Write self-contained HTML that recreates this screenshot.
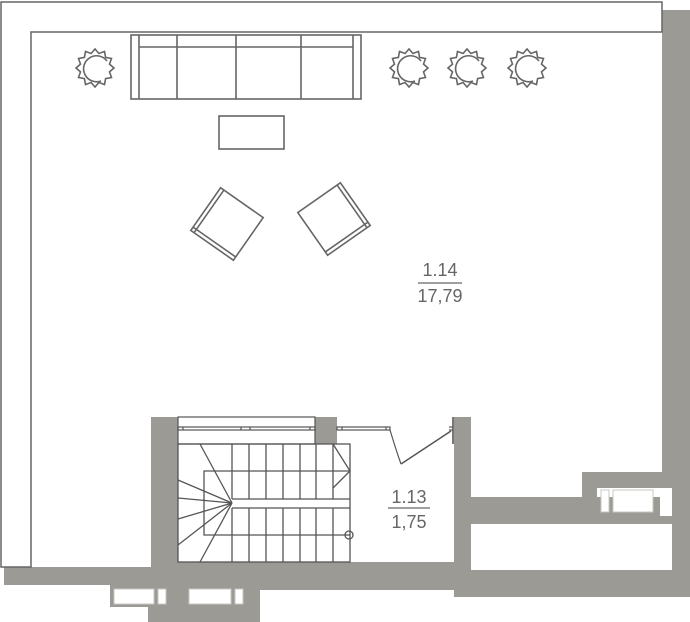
<!DOCTYPE html>
<html><head><meta charset="utf-8"><style>
html,body{margin:0;padding:0;background:#fff;width:690px;height:622px;overflow:hidden}
svg{display:block}
</style></head><body>
<svg width="690" height="622" viewBox="0 0 690 622" xmlns="http://www.w3.org/2000/svg">
<defs>
<g id="plant" fill="none" stroke="#666" stroke-width="1.6">
<polygon points="19,0 14.5,3.9 16.5,9.5 10.6,10.6 9.5,16.5 3.9,14.5 0,19 -3.9,14.5 -9.5,16.5 -10.6,10.6 -16.5,9.5 -14.5,3.9 -19,0 -14.5,-3.9 -16.5,-9.5 -10.6,-10.6 -9.5,-16.5 -3.9,-14.5 0,-19 3.9,-14.5 9.5,-16.5 10.6,-10.6 16.5,-9.5 14.5,-3.9"/>
<path d="M6,13 A13,13 0 1 1 12,-7"/>
</g>
</defs>
<!-- gray walls -->
<g fill="#9b9a95">
<rect x="662" y="10" width="28" height="464"/>
<rect x="582" y="472" width="108" height="16"/>
<rect x="582" y="472" width="15" height="52"/>
<rect x="672" y="472" width="18" height="125"/>
<rect x="454" y="417" width="17" height="180"/>
<rect x="454" y="497" width="236" height="27"/>
<rect x="454" y="570" width="236" height="27"/>
<rect x="151" y="417" width="27" height="173"/>
<rect x="151" y="562" width="320" height="28"/>
<rect x="4" y="567" width="174" height="18"/>
<rect x="110" y="585" width="150" height="22"/>
<rect x="148" y="607" width="112" height="15"/>
<rect x="245" y="580" width="15" height="42"/>
<rect x="315" y="417" width="22" height="27"/>
</g>
<!-- windows bottom -->
<g fill="#fff" stroke="#c8c7c2" stroke-width="1">
<rect x="114" y="589" width="40" height="15"/>
<rect x="158" y="589" width="8" height="15"/>
<rect x="189" y="589" width="42" height="15"/>
<rect x="235" y="589" width="8" height="15"/>
<rect x="601" y="490" width="8" height="22"/>
<rect x="613" y="490" width="40" height="22"/>
<rect x="471" y="524" width="201" height="46" stroke="none"/>
<rect x="660" y="488" width="12" height="28" stroke="none"/>
</g>
<!-- top slab outline -->
<path d="M1,2 H662 V32 H31 V567 H1 Z" fill="#fff" stroke="#666" stroke-width="1.5"/>
<!-- window in stair wall -->
<g fill="none" stroke="#555" stroke-width="1.2">
<rect x="178" y="417" width="137" height="27" fill="#fff"/>
<rect x="178" y="427" width="137" height="3"/>
<line x1="183" y1="427" x2="183" y2="430"/><line x1="241" y1="427" x2="241" y2="430"/><line x1="250" y1="427" x2="250" y2="430"/><line x1="310" y1="427" x2="310" y2="430"/>
<rect x="337" y="427" width="53" height="3"/>
<line x1="342" y1="427" x2="342" y2="430"/><line x1="386" y1="427" x2="386" y2="430"/>
<line x1="453" y1="417" x2="453" y2="444" stroke-width="1.6"/>
<line x1="449" y1="427" x2="453" y2="427"/><line x1="449" y1="430" x2="453" y2="430"/>
<line x1="451" y1="431" x2="401" y2="464" stroke-width="1.5"/>
<path d="M390,430 Q396,450 401,464"/>
</g>
<!-- stairs -->
<g fill="none" stroke="#555" stroke-width="1.3">
<rect x="178" y="444" width="172" height="118"/>
<path d="M350,471 H204 V535 H350"/>
<line x1="232" y1="499" x2="350" y2="499"/>
<line x1="232" y1="508" x2="350" y2="508"/>
<g>
<line x1="232" y1="444" x2="232" y2="499"/><line x1="249" y1="444" x2="249" y2="499"/><line x1="266" y1="444" x2="266" y2="499"/><line x1="283" y1="444" x2="283" y2="499"/><line x1="300" y1="444" x2="300" y2="499"/><line x1="316" y1="444" x2="316" y2="499"/><line x1="333" y1="444" x2="333" y2="499"/>
<line x1="232" y1="508" x2="232" y2="562"/><line x1="249" y1="508" x2="249" y2="562"/><line x1="266" y1="508" x2="266" y2="562"/><line x1="283" y1="508" x2="283" y2="562"/><line x1="300" y1="508" x2="300" y2="562"/><line x1="316" y1="508" x2="316" y2="562"/><line x1="333" y1="508" x2="333" y2="562"/>
</g>
<g>
<line x1="232" y1="503" x2="200" y2="444"/><line x1="232" y1="503" x2="178" y2="480"/><line x1="232" y1="503" x2="178" y2="498"/>
<line x1="232" y1="503" x2="178" y2="519"/><line x1="232" y1="503" x2="178" y2="545"/><line x1="232" y1="503" x2="200" y2="562"/>
</g>
<path d="M333,444 L350,471 L333,488"/>
<circle cx="349" cy="535" r="4"/>
</g>
<!-- furniture -->
<g fill="none" stroke="#666" stroke-width="1.6">
<rect x="131" y="35" width="230" height="64"/>
<line x1="139" y1="35" x2="139" y2="99"/><line x1="353" y1="35" x2="353" y2="99"/>
<line x1="139" y1="47" x2="353" y2="47"/>
<line x1="177" y1="35" x2="177" y2="99"/><line x1="236" y1="35" x2="236" y2="99"/><line x1="301" y1="35" x2="301" y2="99"/>
<rect x="219" y="116" width="65" height="33"/>
<g transform="translate(227,224) rotate(35)">
<rect x="-26" y="-26" width="52" height="52"/>
<line x1="-22" y1="-26" x2="-22" y2="26"/>
<line x1="-26" y1="22" x2="26" y2="22"/>
</g>
<g transform="translate(334,219) rotate(-35)">
<rect x="-26" y="-26" width="52" height="52"/>
<line x1="22" y1="-26" x2="22" y2="26"/>
<line x1="-26" y1="22" x2="26" y2="22"/>
</g>
</g>
<use href="#plant" x="95" y="68"/>
<use href="#plant" x="409" y="68"/>
<use href="#plant" x="467" y="68"/>
<use href="#plant" x="527" y="68"/>
<!-- labels -->
<g font-family="Liberation Sans, sans-serif" font-size="18" fill="#666" text-anchor="middle">
<text x="440" y="276">1.14</text>
<text x="440" y="302">17,79</text>
<text x="409" y="503">1.13</text>
<text x="409" y="528">1,75</text>
</g>
<line x1="418" y1="283" x2="462" y2="283" stroke="#666" stroke-width="1.2"/>
<line x1="388" y1="508" x2="430" y2="508" stroke="#666" stroke-width="1.2"/>
</svg>
</body></html>
